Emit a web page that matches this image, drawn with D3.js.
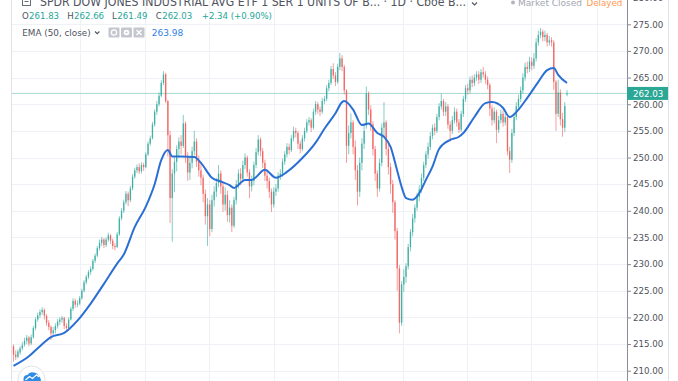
<!DOCTYPE html>
<html><head><meta charset="utf-8">
<script src="https://cdn.jsdelivr.net/npm/d3@7"></script>
<style>html,body{margin:0;padding:0;background:#fff;overflow:hidden}</style>
</head><body><svg id="c" width="678" height="381"></svg>
<script>
// ---- DATA (each candle ~ 2 trading days, DIA daily chart, EMA 50) ----
const opens = [214.6,213.0,212.6,213.4,214.2,214.9,215.6,216.2,215.1,216.3,
218.0,219.6,220.4,221.0,221.4,220.3,219.0,218.2,217.0,217.6,
218.4,219.2,219.6,219.9,218.4,218.0,219.6,221.6,223.1,222.4,
222.6,223.6,225.0,226.6,227.6,228.5,229.1,230.6,231.6,233.0,
234.0,234.6,233.6,234.6,235.4,234.4,233.4,233.2,235.6,238.6,
240.0,241.6,243.2,242.0,244.2,246.4,247.6,248.2,247.4,248.6,
248.2,250.6,252.6,253.6,256.2,258.6,260.0,261.6,264.0,265.6,
260.6,254.2,242.4,247.0,249.2,251.6,253.0,252.2,256.4,250.2,
247.2,249.0,251.2,253.0,249.2,247.6,246.2,243.2,239.0,241.2,
236.6,242.0,243.6,245.2,247.0,244.6,241.2,243.0,239.2,240.6,
237.2,242.0,245.0,247.0,246.0,248.6,250.0,247.2,244.6,245.6,
248.6,251.0,253.4,251.2,249.0,246.6,245.6,243.6,241.2,243.6,
244.2,246.6,247.0,249.2,250.6,252.0,251.4,253.6,255.0,254.6,
252.6,251.6,253.6,255.0,256.6,257.0,255.6,258.6,260.0,259.0,
258.6,260.6,261.0,263.0,264.0,266.6,265.4,264.2,267.0,268.6,
267.0,262.6,252.2,254.6,256.6,252.0,247.6,243.6,249.0,252.6,
256.0,262.0,259.0,256.2,251.6,247.0,244.2,249.0,255.6,256.6,
251.6,248.2,245.0,241.6,236.2,229.2,219.0,226.2,227.6,229.6,
233.2,236.0,238.6,240.6,242.6,244.0,246.2,248.6,250.6,252.0,
254.0,255.6,255.0,257.6,259.6,260.6,258.6,259.6,256.2,255.0,
257.0,258.6,256.6,255.2,258.2,261.0,263.0,262.6,264.6,264.0,
265.0,265.6,264.6,266.0,265.6,264.6,263.6,259.2,257.0,258.6,
255.2,257.0,258.2,256.6,257.6,251.2,249.6,254.6,257.6,259.6,
261.0,262.6,265.0,267.0,266.6,268.0,267.2,268.6,271.6,273.0,
273.6,272.6,273.0,271.6,272.0,271.6,264.2,258.2,262.2,257.2,
255.6,261.83];
const highs = [214.9,213.8,214.0,214.6,215.4,216.2,216.7,216.5,216.8,218.4,
220.0,220.9,221.5,221.9,221.7,220.6,219.5,218.5,218.2,218.9,
219.7,220.0,220.3,220.1,218.9,220.0,222.0,223.6,223.5,223.2,
224.0,225.4,227.0,228.0,228.9,229.6,231.0,232.0,233.4,234.6,
235.1,234.9,235.0,235.9,235.6,234.8,233.9,236.0,239.0,240.5,
242.1,243.7,243.6,244.7,246.9,248.1,248.7,248.9,249.1,249.0,
251.0,253.0,254.1,256.7,259.0,260.6,262.2,264.5,266.2,265.9,
260.8,255.0,247.8,250.0,252.3,253.8,254.2,258.0,256.8,251.0,
250.2,252.0,255.0,253.6,250.4,248.8,246.8,244.0,242.4,242.0,
243.0,244.6,246.2,248.6,247.6,245.4,244.4,243.8,242.0,241.2,
242.6,245.8,247.8,248.0,249.4,250.8,250.4,247.8,246.6,249.2,
251.8,254.2,253.8,251.8,249.6,247.4,246.2,244.2,244.4,245.0,
247.2,247.8,249.8,251.2,252.7,252.6,254.2,255.8,255.6,255.0,
253.2,254.2,255.6,257.2,257.6,257.4,259.2,260.6,260.4,259.6,
261.2,261.6,263.6,264.6,267.2,267.7,266.0,267.6,269.6,269.2,
267.4,262.8,256.0,258.3,257.0,253.2,248.6,250.0,253.6,256.2,
263.3,262.4,259.8,256.8,252.2,247.6,249.8,256.4,260.4,257.0,
252.4,249.0,245.8,242.0,236.8,229.8,226.8,229.0,230.2,233.8,
236.6,239.4,241.2,243.4,244.8,247.0,249.2,251.2,252.8,254.8,
256.2,256.4,258.2,260.2,262.0,261.0,260.4,260.0,256.8,257.8,
259.4,259.2,257.2,258.8,261.6,263.6,263.8,265.2,265.4,265.6,
266.2,266.2,266.6,267.0,266.2,265.2,264.0,259.8,259.4,259.0,
257.8,259.0,258.8,258.4,258.0,252.0,255.4,258.4,260.4,261.8,
263.3,265.8,267.8,268.0,268.9,268.8,269.6,272.4,273.8,274.3,
274.0,273.8,273.4,272.8,272.6,272.0,264.6,264.6,262.8,258.4,
260.4,262.66];
const lows = [211.7,212.0,212.3,213.0,213.8,214.5,215.0,214.6,214.8,216.0,
217.6,219.2,219.9,220.5,219.6,218.4,217.6,215.8,216.5,217.0,
217.9,218.6,219.0,217.8,217.3,217.7,219.4,221.2,221.8,221.9,
222.3,223.3,224.7,226.2,227.2,228.0,228.8,230.2,231.3,232.6,
233.4,233.0,233.2,234.2,233.8,232.8,232.6,233.0,235.3,238.2,
239.6,241.2,240.9,241.6,243.8,246.0,247.1,246.9,247.0,247.5,
248.0,250.3,252.2,253.4,255.8,258.0,259.6,261.3,263.6,260.2,
250.2,237.7,234.2,243.5,247.4,250.0,250.6,251.8,249.0,245.6,
245.8,248.0,250.4,248.2,246.4,244.8,241.6,237.4,233.4,235.2,
236.0,240.8,242.6,244.4,243.2,239.8,240.0,238.0,237.8,236.0,
236.8,241.2,244.2,244.8,245.4,247.8,246.4,242.4,243.6,244.8,
248.0,250.4,250.2,248.0,245.6,244.2,242.4,239.8,240.6,242.8,
243.6,245.8,246.4,248.6,250.0,250.6,251.0,253.0,253.8,251.6,
250.8,251.2,253.0,254.6,256.0,254.8,255.2,258.0,258.2,257.8,
258.2,260.0,260.6,262.4,263.6,264.8,263.4,263.8,266.4,266.2,
261.8,249.0,250.6,253.6,250.6,245.8,241.0,242.6,247.6,251.6,
255.4,258.0,255.0,250.4,245.6,242.6,243.6,248.4,254.0,250.4,
246.8,243.2,239.6,234.6,225.0,217.0,218.4,224.8,226.5,229.0,
232.4,235.2,237.8,240.0,241.8,243.4,245.6,248.0,249.8,251.4,
253.4,254.2,254.6,257.0,259.0,257.8,257.8,255.4,253.0,254.4,
256.4,255.8,254.6,254.8,257.6,260.4,261.8,262.0,263.2,263.4,
264.4,263.8,264.0,265.0,263.8,262.8,257.8,256.0,256.4,252.7,
254.6,256.4,255.8,256.0,250.4,247.1,249.0,254.0,257.0,259.0,
260.4,262.0,264.4,265.8,266.0,266.4,266.6,268.0,271.0,272.4,
271.8,271.8,270.8,271.0,270.8,262.7,255.0,257.6,256.0,253.9,
254.8,261.49];
const closes = [213.0,212.6,213.6,214.2,214.8,215.6,216.2,215.1,216.3,218.0,
219.6,220.4,221.0,221.4,220.3,219.0,218.2,217.0,217.6,218.4,
219.2,219.6,219.9,218.4,218.0,219.6,221.6,223.1,222.4,222.6,
223.6,225.0,226.6,227.6,228.5,229.1,230.6,231.6,233.0,234.0,
234.6,233.6,234.6,235.4,234.4,233.4,233.2,235.6,238.6,240.0,
241.6,243.2,242.0,244.2,246.4,247.6,248.2,247.4,248.6,248.2,
250.6,252.6,253.6,256.2,258.6,260.0,261.6,264.0,265.6,260.6,
254.2,242.4,247.0,249.2,251.6,253.0,252.2,256.4,250.2,247.2,
249.0,251.2,253.0,249.2,247.6,246.2,243.2,239.0,241.2,236.6,
242.0,243.6,245.2,247.0,244.6,241.2,243.0,239.2,240.6,237.2,
242.0,245.0,247.0,246.0,248.6,250.0,247.2,244.6,245.6,248.6,
251.0,253.4,251.2,249.0,246.6,245.6,243.6,241.2,243.6,244.2,
246.6,247.0,249.2,250.6,252.0,251.4,253.6,255.0,254.6,252.6,
251.6,253.6,255.0,256.6,257.0,255.6,258.6,260.0,259.0,258.6,
260.6,261.0,263.0,264.0,266.6,265.4,264.2,267.0,268.6,267.0,
262.6,252.2,254.6,256.6,252.0,247.6,243.6,249.0,252.6,255.0,
262.0,259.0,256.2,251.6,247.0,244.2,249.0,255.6,256.6,251.6,
248.2,245.0,241.6,236.2,229.2,219.0,226.2,227.6,229.6,233.2,
236.0,238.6,240.6,242.6,244.0,246.2,248.6,250.6,252.0,254.0,
255.6,255.0,257.6,259.6,260.6,258.6,259.6,256.2,255.0,257.0,
258.6,256.6,255.2,258.2,261.0,263.0,262.6,264.6,264.0,265.0,
265.6,264.6,266.0,265.6,264.6,263.6,259.2,257.0,258.6,255.2,
257.0,258.2,256.6,257.6,251.2,249.6,254.6,257.6,259.6,261.0,
262.6,265.0,267.0,266.6,268.0,267.2,268.6,271.6,273.0,273.6,
272.6,273.0,271.6,272.0,271.6,264.2,258.2,262.2,257.2,255.6,
259.69,262.03];
// EMA(50) at candle indexes
const emaIdx = [0,7,12,17,23,29,35,41,47,50,55,60,64,67,70,72,76,82,85,90,94,98,100,105,108,114,119,124,131,137,141,146,149,150,154,158,161,165,168,171,174,176,178,181,184,187,190,193,198,202,204,209,214,217,222,225,229,233,238,242,245,247,251];
const emaVal = [210.9,212.7,214.6,216.3,217.1,219.4,222.6,226.3,230.1,231.8,237.0,240.8,245.0,249.5,251.4,250.2,250.2,250.1,249.0,246.2,245.5,244.8,244.3,245.8,245.8,247.7,246.2,247.3,249.9,252.8,255.4,258.3,260.4,260.6,259.0,256.1,256.4,254.6,253.9,252.0,247.5,244.5,242.4,242.1,243.3,245.8,248.3,251.6,253.3,253.9,254.6,257.6,260.2,260.4,259.3,257.6,259.0,261.2,264.2,266.4,266.8,265.5,263.98];
const priceTicks = [210,215,220,225,230,235,240,245,250,255,260,265,270,275,280];
const quarterIdx = [30.2,59.6,88.7,118.1,147.2,176.6,205.7,234.7,264.6]; // quarter starts
const lastPrice = 262.03;
const legend = {title:"SPDR DOW JONES INDUSTRIAL AVG ETF 1 SER 1 UNITS OF B... · 1D · Cboe B...",
  o:"261.83", h:"262.66", l:"261.49", c:"262.03", chg:"+2.34 (+0.90%)", ema:"263.98"};

// ---- DRAW ----
const UP = "#26a69a", DOWN = "#ef5350", FONT = "'DejaVu Sans', Verdana, sans-serif";
const svg = d3.select('#c');
const x = d3.scaleLinear().domain([0, 251]).range([13.5, 567]);
const y = d3.scaleLinear().domain([210, 275]).range([370.7, 24.3]);
const L = 12, R = 627;

svg.append('rect').attr('width',678).attr('height',381).attr('fill','#fff');
svg.append('defs').append('clipPath').attr('id','plot').append('rect')
  .attr('x',L).attr('y',0).attr('width',R-L).attr('height',381);

const grid = svg.append('g').attr('stroke','#eef1f6').attr('stroke-width',1);
grid.selectAll('.h').data(priceTicks).join('line')
  .attr('x1',L).attr('x2',R).attr('y1',d=>Math.round(y(d))+0.5).attr('y2',d=>Math.round(y(d))+0.5);
grid.selectAll('.v').data(quarterIdx).join('line')
  .attr('x1',d=>Math.round(x(d))+0.5).attr('x2',d=>Math.round(x(d))+0.5).attr('y1',0).attr('y2',381);

// last price line
svg.append('line').attr('x1',L).attr('x2',R)
  .attr('y1',y(lastPrice)).attr('y2',y(lastPrice))
  .attr('stroke','#a6dad3').attr('stroke-width',1);

const plot = svg.append('g').attr('clip-path','url(#plot)');
const idx = d3.range(closes.length);
const cg = plot.append('g');
cg.selectAll('line').data(idx).join('line')
  .attr('x1',i=>x(i)).attr('x2',i=>x(i))
  .attr('y1',i=>y(highs[i])).attr('y2',i=>y(lows[i]))
  .attr('stroke',i=>closes[i]>=opens[i]?UP:DOWN).attr('stroke-width',0.8).attr('opacity',0.7);
cg.selectAll('rect').data(idx).join('rect')
  .attr('x',i=>x(i)-0.7).attr('width',1.4)
  .attr('y',i=>y(Math.max(opens[i],closes[i])))
  .attr('height',i=>Math.max(0.8, Math.abs(y(opens[i])-y(closes[i]))))
  .attr('fill',i=>closes[i]>=opens[i]?UP:DOWN).attr('opacity',0.75);

// EMA line
const line = d3.line().x(d=>x(d[0])).y(d=>y(d[1])).curve(d3.curveMonotoneX);
plot.append('path').datum(emaIdx.map((d,k)=>[d, emaVal[k]]))
  .attr('d',line).attr('fill','none').attr('stroke','#2c6fd4').attr('stroke-width',2)
  .attr('stroke-linejoin','round');

// borders
svg.append('line').attr('x1',L-0.5).attr('x2',L-0.5).attr('y1',0).attr('y2',381).attr('stroke','#dfe2e8');
svg.append('line').attr('x1',668.5).attr('x2',668.5).attr('y1',0).attr('y2',381).attr('stroke','#dfe2e8');

// price axis
const ax = svg.append('g').attr('transform',`translate(${R},0)`)
  .call(d3.axisRight(y).tickValues(priceTicks).tickSize(4).tickPadding(2).tickFormat(d3.format('.2f')));
ax.select('.domain').remove();
ax.selectAll('line').attr('stroke','#8a8d96');
ax.selectAll('text').attr('font-family',FONT).attr('font-size',8.7).attr('fill','#50535e');
svg.append('line').attr('x1',R+0.5).attr('x2',R+0.5).attr('y1',0).attr('y2',381).attr('stroke','#8a8d96');

// last price label
const ly = y(lastPrice);
svg.append('rect').attr('x',R).attr('y',ly-6.5).attr('width',41).attr('height',13).attr('fill','#2aa795');
svg.append('text').attr('x',R+6).attr('y',ly+3.2).attr('font-family',FONT).attr('font-size',8.7)
  .attr('fill','#fff').text(lastPrice.toFixed(2));

// ---- LEGEND ----
const T = (tx,ty,s,fill,size,extra)=>{const t=svg.append('text').attr('x',tx).attr('y',ty).attr('font-family',FONT)
  .attr('font-size',size||9).attr('fill',fill).text(s); if(extra) extra(t); return t;};
// title row
svg.append('rect').attr('x',22.5).attr('y',-2.5).attr('width',8).attr('height',8).attr('fill','none').attr('stroke','#6a6d78');
svg.append('line').attr('x1',24.5).attr('x2',28.5).attr('y1',1.5).attr('y2',1.5).attr('stroke','#6a6d78');
T(40,6.2,legend.title,'#50535e',11.5,t=>t.attr('textLength',426).attr('lengthAdjust','spacingAndGlyphs'));
svg.append('path').attr('d','M472,2.5 L474.5,5 L477,2.5').attr('fill','none').attr('stroke','#50535e').attr('stroke-width',1.1);
svg.append('circle').attr('cx',513).attr('cy',2.5).attr('r',2).attr('fill','#b2b5be');
T(518,5.5,'Market Closed','#a3a6af',9);
T(586.5,5.5,'Delayed','#ff9850',8.7);
// OHLC row
const oy = 18.7, vc = '#26a69a', lc = '#50535e';
T(22,oy,'O',lc,8.6); T(29,oy,legend.o,vc,8.6);
T(67.3,oy,'H',lc,8.6); T(74,oy,legend.h,vc,8.6);
T(112,oy,'L',lc,8.6); T(117.3,oy,legend.l,vc,8.6);
T(155.8,oy,'C',lc,8.6); T(162.2,oy,legend.c,vc,8.6);
T(201.7,oy,legend.chg,vc,8.6);
// EMA row
const ey = 35.5;
T(22.3,ey,'EMA (50, close)',lc,8.8);
svg.append('path').attr('d','M95,31.5 L97.2,33.7 L99.4,31.5').attr('fill','none').attr('stroke',lc).attr('stroke-width',1.1);
[108.5,121,133.5].forEach((bx,k)=>{
  svg.append('rect').attr('x',bx).attr('y',27.5).attr('width',11).attr('height',10).attr('rx',1).attr('fill','#c4c7ce');
  if(k===0){svg.append('circle').attr('cx',bx+5.5).attr('cy',32.5).attr('r',2.6).attr('fill','none').attr('stroke','#fff').attr('stroke-width',1.2);}
  if(k===1){svg.append('circle').attr('cx',bx+5.5).attr('cy',32.5).attr('r',2.8).attr('fill','#fff');
            svg.append('circle').attr('cx',bx+5.5).attr('cy',32.5).attr('r',1.1).attr('fill','#c4c7ce');}
  if(k===2){svg.append('path').attr('d',`M${bx+3},30 L${bx+8},35 M${bx+8},30 L${bx+3},35`).attr('stroke','#fff').attr('stroke-width',1.4);}
});
T(151.7,ey,legend.ema,'#2f80e8',9);

// logo bottom-left
svg.append('circle').attr('cx',31.5).attr('cy',379.5).attr('r',13.5).attr('fill','#fff').attr('stroke','#e0e3eb');
svg.append('path').attr('d','M23.5,382 L23.5,379 Q23.5,375 27.5,375 Q29.5,371.5 33.5,372.5 Q37.5,372.5 38.5,376 Q41,377 41,382 Z')
  .attr('fill','#2e8be6');
svg.append('path').attr('d','M25.5,380 L29.5,376.5 L32.5,378.5 L36.5,374.8 L39,377').attr('fill','none')
  .attr('stroke','#fff').attr('stroke-width',1.3);
</script></body></html>
